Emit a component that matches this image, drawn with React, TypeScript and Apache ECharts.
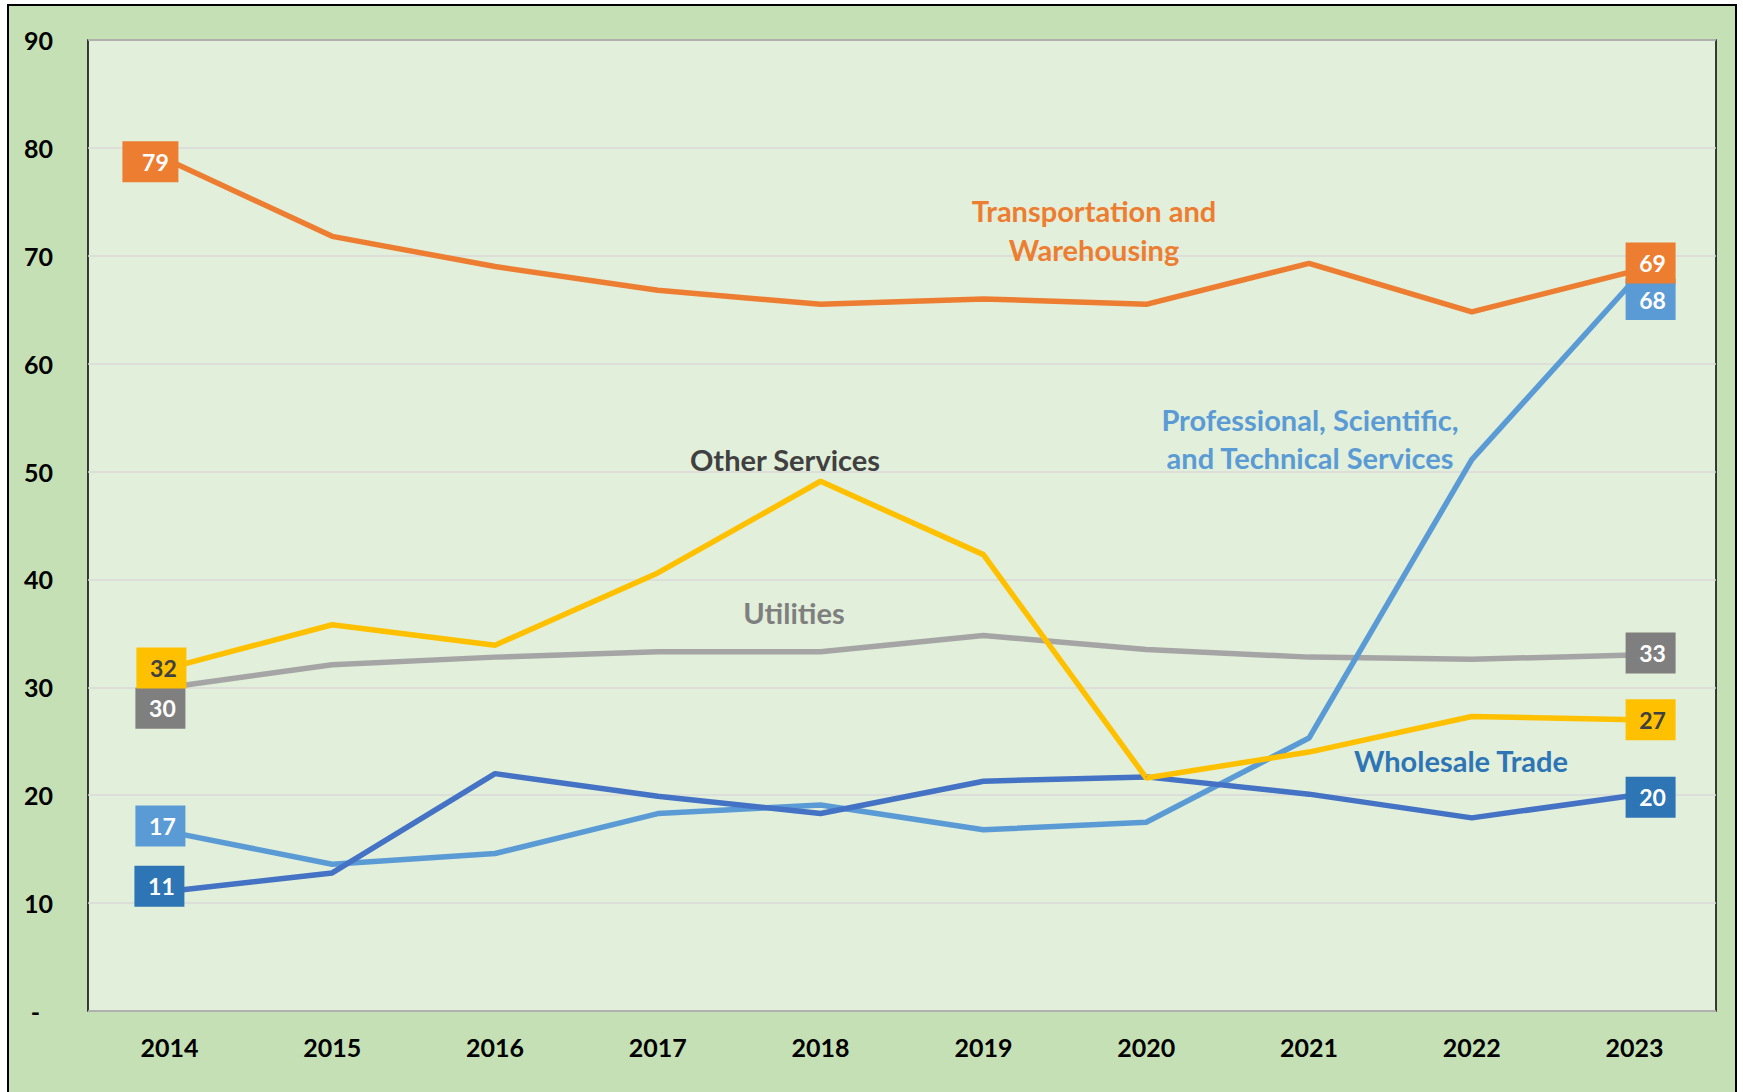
import React, { useEffect, useRef } from 'react';
import * as echarts from 'echarts';

const years = ['2014', '2015', '2016', '2017', '2018', '2019', '2020', '2021', '2022', '2023'];
const transportation = [78.8, 71.8, 69.0, 66.8, 65.5, 66.0, 65.5, 69.3, 64.8, 68.6];
const professional = [16.6, 13.6, 14.6, 18.3, 19.1, 16.8, 17.5, 25.3, 51.1, 67.8];
const wholesale = [11.1, 12.8, 22.0, 19.9, 18.3, 21.3, 21.7, 20.1, 17.9, 20.0];
const otherServices = [31.8, 35.8, 33.9, 40.6, 49.1, 42.3, 21.6, 24.0, 27.3, 27.0];
const utilities = [30.0, 32.1, 32.8, 33.3, 33.3, 34.8, 33.5, 32.8, 32.6, 33.0];

const yMin = 0;
const yMax = 90;
const yStep = 10;

const FONT = 'Lato';

function boxLabel(bg: string, color: string, offset: number[], wide = false) {
  return {
    show: true,
    position: 'inside',
    offset,
    backgroundColor: bg,
    color,
    fontFamily: FONT,
    fontWeight: 'bold',
    fontSize: 23,
    width: 30,
    height: 25,
    lineHeight: 25,
    padding: wide ? [8, 8, 8, 18] : [8, 8, 8, 12],
    align: 'center',
    verticalAlign: 'middle',
    formatter: (p: any) => String(Math.round(p.value)),
  };
}

function withLabels(values: number[], first: any, last: any) {
  return values.map((v, i) => {
    if (i === 0) return { value: v, label: first };
    if (i === values.length - 1) return { value: v, label: last };
    return { value: v };
  });
}

function lineSeries(name: string, color: string, data: any[]) {
  return {
    name,
    type: 'line',
    data,
    symbol: 'circle',
    symbolSize: 1,
    showSymbol: true,
    lineStyle: { color, width: 5.5 },
    itemStyle: { color },
    label: { show: false },
    silent: true,
    z: 2,
  };
}

function seriesText(text: string, x: number, y: number, fill: string, lineHeight = 39) {
  return {
    type: 'text',
    x,
    y,
    z: 10,
    style: {
      text,
      fill,
      fontFamily: FONT,
      fontWeight: 'bold',
      fontSize: 29,
      lineHeight,
      align: 'center',
      verticalAlign: 'middle',
    },
  };
}

export default function App() {
  const ref = useRef<HTMLDivElement>(null);

  useEffect(() => {
    if (!ref.current) return;
    const chart = echarts.init(ref.current, undefined, { renderer: 'svg' });
    const option: any = {
      animation: false,
      grid: {
        left: 88,
        top: 40,
        right: 27,
        bottom: 81,
        show: true,
        backgroundColor: '#E2EFDA',
        borderColor: '#000000',
        borderWidth: 1.5,
      },
      xAxis: {
        type: 'category',
        data: years,
        boundaryGap: true,
        axisLine: { show: false },
        axisTick: { show: false },
        splitLine: { show: false },
        axisLabel: {
          margin: 23,
          color: '#000000',
          fontFamily: FONT,
          fontWeight: 'bold',
          fontSize: 25,
        },
      },
      yAxis: {
        type: 'value',
        min: yMin,
        max: yMax,
        interval: yStep,
        axisLine: { show: false },
        axisTick: { show: false },
        splitLine: { lineStyle: { color: '#D9D9D9', width: 1.5 } },
        axisLabel: {
          margin: 35,
          color: '#000000',
          fontFamily: FONT,
          fontWeight: 'bold',
          fontSize: 25,
          formatter: (v: number) => (v === 0 ? '{d|-}' : String(v)),
          rich: {
            d: {
              color: '#000000',
              fontFamily: FONT,
              fontWeight: 'bold',
              fontSize: 25,
              padding: [0, 13, 0, 0],
            },
          },
        },
      },
      series: [
        lineSeries(
          'Utilities',
          '#A5A5A5',
          withLabels(utilities, boxLabel('#7F7F7F', '#FFFFFF', [-9, 21]), boxLabel('#7F7F7F', '#FFFFFF', [16, -2]))
        ),
        lineSeries(
          'Professional, Scientific, and Technical Services',
          '#5B9BD5',
          withLabels(professional, boxLabel('#5B9BD5', '#FFFFFF', [-9, -6]), boxLabel('#5B9BD5', '#FFFFFF', [16, 20]))
        ),
        lineSeries(
          'Wholesale Trade',
          '#4472C4',
          withLabels(wholesale, boxLabel('#2E75B6', '#FFFFFF', [-10, -5]), boxLabel('#2E75B6', '#FFFFFF', [16, 2]))
        ),
        lineSeries(
          'Other Services',
          '#FFC000',
          withLabels(otherServices, boxLabel('#FFC000', '#404040', [-8, 0]), boxLabel('#FFC000', '#404040', [16, 0]))
        ),
        lineSeries(
          'Transportation and Warehousing',
          '#ED7D31',
          withLabels(transportation, boxLabel('#ED7D31', '#FFFFFF', [-19, 1], true), boxLabel('#ED7D31', '#FFFFFF', [16, -8]))
        ),
      ],
      graphic: [
        seriesText('Transportation and\nWarehousing', 1094, 230, '#ED7D31', 39),
        seriesText('Professional, Scientific,\nand Technical Services', 1310, 438, '#5B9BD5', 38),
        seriesText('Other Services', 785, 459, '#404040'),
        seriesText('Utilities', 794, 612, '#7F7F7F'),
        seriesText('Wholesale Trade', 1461, 760, '#2E75B6'),
      ],
    };
    chart.setOption(option);
    return () => chart.dispose();
  }, []);

  return (
    <div style={{ position: 'absolute', left: 0, top: 0, width: 1743, height: 1092, overflow: 'hidden' }}>
      <div
        style={{
          position: 'absolute',
          left: 7,
          top: 4,
          width: 1730,
          height: 1090,
          boxSizing: 'border-box',
          border: '2px solid #000000',
          borderBottom: 'none',
          background: '#C5E0B4',
        }}
      />
      <div ref={ref} style={{ position: 'absolute', left: 0, top: 0, width: 1743, height: 1092 }} />
    </div>
  );
}
